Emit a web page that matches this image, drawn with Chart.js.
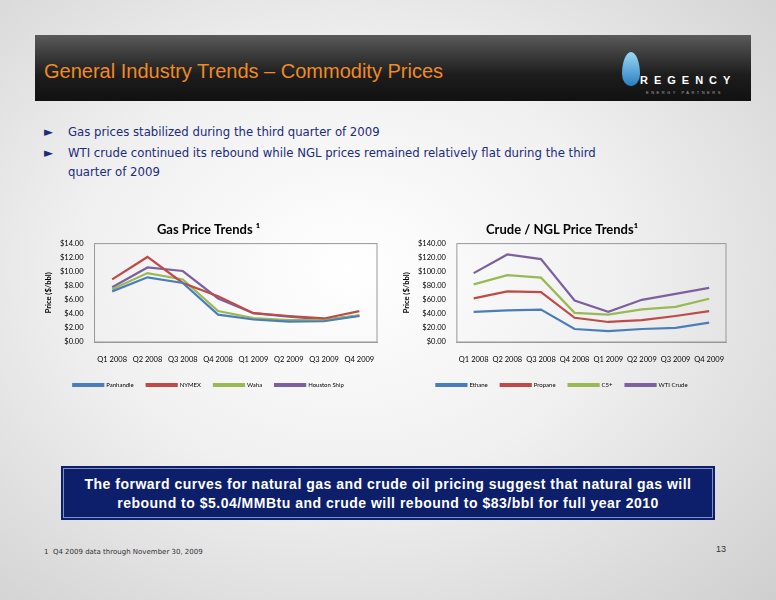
<!DOCTYPE html>
<html><head><meta charset="utf-8">
<script src="https://cdn.jsdelivr.net/npm/chart.js@4.4.0/dist/chart.umd.min.js"></script>
<style>
body{margin:0;width:776px;height:600px;overflow:hidden;font-family:"DejaVu Sans",sans-serif;
 background:radial-gradient(ellipse at 45% 45%,#ffffff 0%,#f0f0f0 45%,#cfcfcf 100%);position:relative}
#hdr{position:absolute;left:35px;top:35px;width:716px;height:66px;background:linear-gradient(#5a5a5a,#1d1d1d 60%,#111)}
#title{position:absolute;left:44px;top:60px;color:#f08a24;font:20px "Liberation Sans",Arial,sans-serif}
#logo{position:absolute;left:618px;top:48px;width:130px;height:52px}
#logo .r{position:absolute;left:22px;top:26px;color:#fff;font:bold 11px "Liberation Sans";letter-spacing:6px}
#logo .e{position:absolute;left:28px;top:42px;color:#aaa;font:4px "Liberation Sans";letter-spacing:2.5px;white-space:nowrap}
#logo .d{position:absolute;left:4px;top:4px;width:18px;height:34px;border-radius:50%/65% 65% 35% 35%;background:linear-gradient(#9cd8f5,#2a7fc0)}
.b{position:absolute;left:44px;color:#1b2c7a;font:13px "DejaVu Sans Condensed","DejaVu Sans",sans-serif;line-height:19px}
.b span{display:inline-block;width:24px;font-size:13px}
canvas{position:absolute}
#box{position:absolute;left:63px;top:468px;width:650px;height:50px;background:#0d1f6b;border:1px solid #8090c0;box-shadow:0 0 0 2px #0d1f6b;color:#fff;text-align:center;font:bold 14px "Liberation Sans",Arial;line-height:19px;padding-top:6px;box-sizing:border-box;letter-spacing:.5px}
#foot{position:absolute;left:44px;top:548px;font:7px "DejaVu Sans";color:#333}
#pg{position:absolute;left:716px;top:544px;font:9px "Liberation Sans";color:#333}
</style></head><body>
<div id="hdr"></div>
<div id="title">General Industry Trends – Commodity Prices</div>
<div id="logo"><div class="d"></div><div class="r">REGENCY</div><div class="e">ENERGY PARTNERS</div></div>
<div class="b" style="top:122px"><span>►</span>Gas prices stabilized during the third quarter of 2009</div>
<div class="b" style="top:143px"><span>►</span>WTI crude continued its rebound while NGL prices remained relatively flat during the third<br><span></span>quarter of 2009</div>
<canvas id="c1" style="left:40px;top:218px;width:345px;height:180px" width="345" height="180"></canvas>
<canvas id="c2" style="left:398px;top:218px;width:336px;height:180px" width="336" height="180"></canvas>
<div id="box">The forward curves for natural gas and crude oil pricing suggest that natural gas will<br>rebound to $5.04/MMBtu and crude will rebound to $83/bbl for full year 2010</div>
<div id="foot">1 &nbsp;Q4 2009 data through November 30, 2009</div>
<div id="pg">13</div>
<script>
const quarters=['Q1 2008','Q2 2008','Q3 2008','Q4 2008','Q1 2009','Q2 2009','Q3 2009','Q4 2009'];
const panhandle=[7.2,9.2,8.4,3.9,3.2,2.9,2.95,3.7];
const nymex=[8.9,12.1,8.4,6.5,4.1,3.7,3.35,4.4];
const waha=[7.5,9.8,8.9,4.4,3.4,3.1,3.1,3.8];
const houstonShip=[7.8,10.6,10.1,6.2,4.1,3.6,3.2,3.75];
const ethane=[43,45,46,18.5,15.5,18.5,20,27.5];
const propane=[62,72,71,34.5,28.5,31,37,44];
const c5plus=[82,95,91.5,41.5,39,46.5,50,61.5];
const wtiCrude=[98,124.5,118,59,43,60,68.5,77];
const colors=['#4a7ebb','#be4b48','#98b954','#7d60a0'];

const plotBorder={id:'pb',beforeDatasetsDraw(c){const a=c.chartArea,x=c.ctx;x.save();x.strokeStyle='#999';x.lineWidth=1;x.strokeRect(a.left,a.top,a.right-a.left,a.bottom-a.top);x.restore();}};
function make(id,title,names,series,max,step){
  new Chart(document.getElementById(id),{type:'line',
    data:{labels:quarters,datasets:series.map((d,i)=>({label:names[i],data:d,borderColor:colors[i],backgroundColor:colors[i],borderWidth:2.2,pointRadius:0,tension:0}))},
    plugins:[plotBorder],
    options:{responsive:false,animation:false,
      layout:{padding:{right:8,bottom:0}},
      plugins:{title:{display:true,text:title,color:'#000',font:{family:'Lato',size:13,weight:'bold'},padding:{top:4,bottom:6}},
        legend:{position:'bottom',labels:{boxWidth:30,boxHeight:2,font:{family:'Lato',size:6},color:'#000',padding:13}}},
      scales:{x:{offset:true,grid:{display:false},border:{color:'#999'},ticks:{autoSkip:false,padding:5,font:{family:'Lato',size:7.5},color:'#000',maxRotation:0}},
        y:{min:0,max:max,grid:{display:false},border:{display:false},
          title:{display:true,text:'Price ($/bbl)',font:{family:'Lato',size:7.5,weight:'bold'},color:'#000'},
          ticks:{autoSkip:false,stepSize:step,font:{family:'Lato',size:7.5},color:'#000',callback:v=>'$'+v.toFixed(2)}}}}});
}
make('c1','Gas Price Trends ¹',['Panhandle','NYMEX','Waha','Houston Ship'],[panhandle,nymex,waha,houstonShip],14,2);
make('c2','Crude / NGL Price Trends¹',['Ethane','Propane','C5+','WTI Crude'],[ethane,propane,c5plus,wtiCrude],140,20);
</script>
</body></html>
